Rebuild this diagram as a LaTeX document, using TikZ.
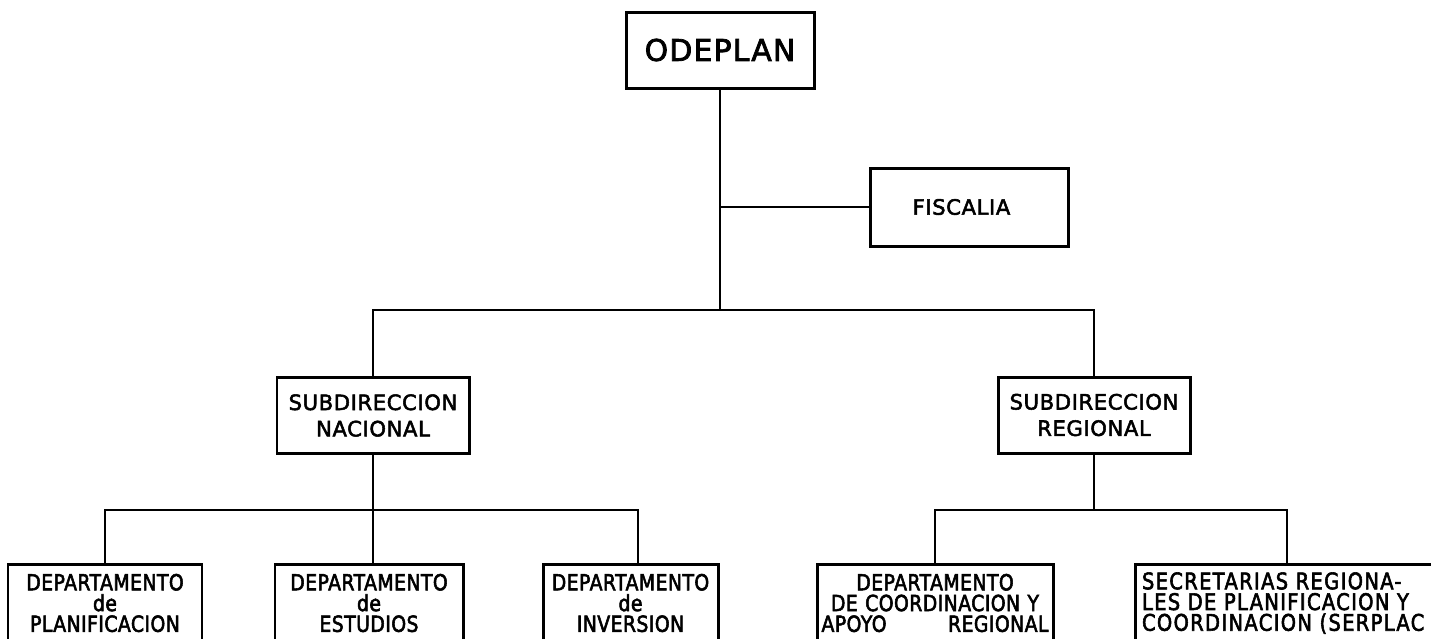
\documentclass[tikz,border=0pt]{standalone}
\usepackage{fontspec}
\setmainfont{DejaVu Sans}
\newfontfamily\letterfont{DejaVu Sans}[FakeBold=2.5]
\newfontfamily\narrowfont{DejaVu Sans}[FakeStretch=0.85,FakeBold=2.5]
\usepackage{tikz}
\usetikzlibrary{calc,positioning}

\begin{document}
\begin{tikzpicture}[x=0.2mm, y=-0.2mm, line width=1.1pt,
    box/.style={rectangle, draw, line width=1.7pt, inner sep=2pt, align=center},
    subbox/.style={box, minimum width=38.4mm, minimum height=15.2mm,
      font=\letterfont\addfontfeature{LetterSpace=3}\fontsize{12}{15}\selectfont},
    deptbox/.style={box, minimum height=15.6mm,
      font=\narrowfont\addfontfeature{LetterSpace=2}\fontsize{12.6}{11.8}\selectfont}]
    \useasboundingbox (0,0) rectangle (1431,638);
    \clip (0,0) rectangle (1431,638);

    % top level
    \node[box, minimum width=37.6mm, minimum height=15.2mm,
      font=\letterfont\addfontfeature{LetterSpace=4}\fontsize{17}{17}\selectfont] (odeplan) at (720,50) {ODEPLAN};
    \node[box, minimum width=39.6mm, minimum height=15.6mm,
      font=\letterfont\addfontfeature{LetterSpace=3}\fontsize{12}{12}\selectfont] (fisc) at (969,207) {FISCALIA\hspace*{3mm}};

    % subdirecciones
    \node[subbox] (subnac) at (373,415.5) {SUBDIRECCION\\NACIONAL};
    \node[subbox] (subreg) at (1094,415) {SUBDIRECCION\\REGIONAL};

    % departamentos (bottom row, cut by the page edge)
    \node[deptbox, minimum width=38.8mm] (dplan) at (105,603) {DEPARTAMENTO\\de\\PLANIFICACION};
    \node[deptbox, minimum width=37.6mm] (dest) at (369,603) {DEPARTAMENTO\\de\\ESTUDIOS};
    \node[deptbox, minimum width=35mm] (dinv) at (630.5,603) {DEPARTAMENTO\\de\\INVERSION};
    \node[deptbox, minimum width=47.2mm, text width=45.6mm] (dcoord) at (935,603)
      {DEPARTAMENTO\\DE COORDINACION Y\\\makebox[45.4mm]{APOYO\hfill REGIONAL}};
    \node[deptbox, minimum width=60.8mm, text width=58mm, align=left,
      font=\narrowfont\addfontfeature{LetterSpace=6}\fontsize{13}{11.8}\selectfont] (serplac) at (1287,603)
      {SECRETARIAS REGIONA-\\LES DE PLANIFICACION Y\\COORDINACION (SERPLAC};

    % connections
    \coordinate (trunk) at (720,310);
    \draw (odeplan) -- (trunk);
    \draw (fisc) -- (fisc -| trunk);
    \draw (subnac) |- (trunk) -| (subreg);

    \coordinate (nacbar) at (373,510);
    \draw (subnac) -- (nacbar);
    \draw (dplan) |- (nacbar) -| ([xshift=1.5mm]dinv.north);
    \draw (nacbar) -- (nacbar |- dest.north);

    \coordinate (regbar) at (1094,510);
    \draw (subreg) -- (regbar);
    \draw (dcoord) |- (regbar) -| (serplac);
\end{tikzpicture}
\end{document}
